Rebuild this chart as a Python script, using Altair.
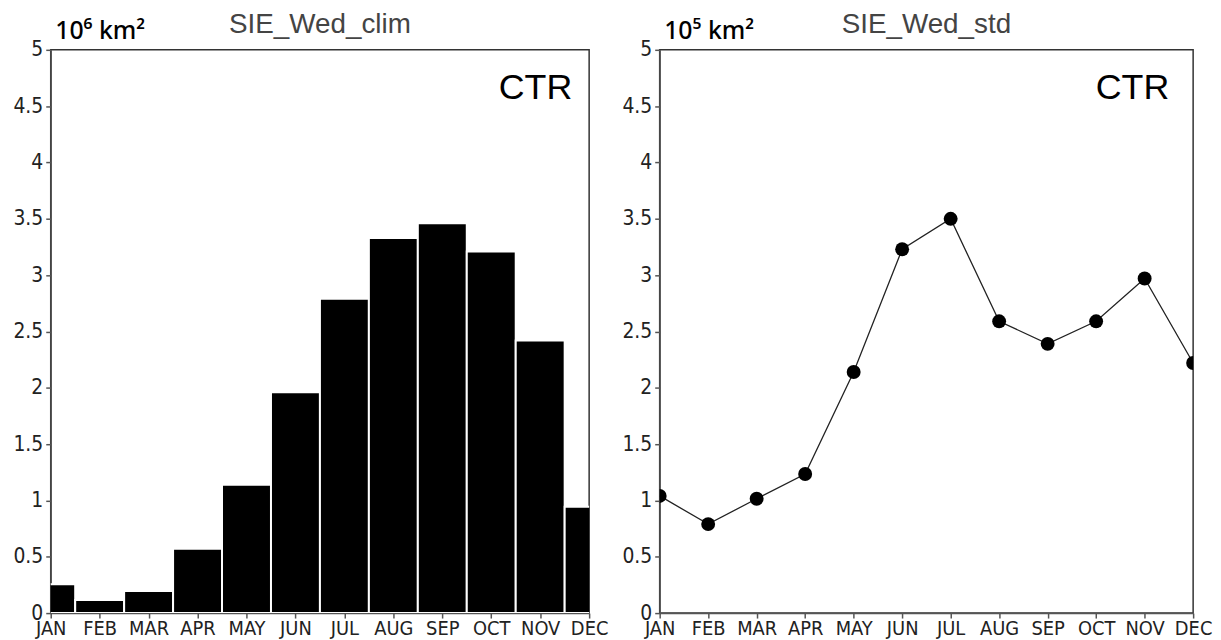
import altair as alt
import pandas as pd

months = ["JAN", "FEB", "MAR", "APR", "MAY", "JUN", "JUL", "AUG", "SEP", "OCT", "NOV", "DEC"]
month_idx = list(range(1, 13))
clim = [0.256, 0.117, 0.197, 0.57, 1.14, 1.96, 2.79, 3.33, 3.46, 3.21, 2.42, 0.944]
std = [1.04, 0.79, 1.015, 1.235, 2.14, 3.23, 3.50, 2.59, 2.39, 2.59, 2.97, 2.22]
y_ticks = [0, 0.5, 1, 1.5, 2, 2.5, 3, 3.5, 4, 4.5, 5]

df_clim = pd.DataFrame({"m": month_idx, "mon": months, "v": clim})
df_std = pd.DataFrame({"m": month_idx, "mon": months, "v": std})

FONT = "Liberation Sans Narrow, DejaVu Sans Condensed, Liberation Sans, sans-serif"
label_expr = "[" + ",".join("'%s'" % m for m in months) + "][datum.value-1]"

def xaxis():
    return alt.Axis(values=month_idx, labelExpr=label_expr, title=None, grid=False,
                    labelFont=FONT, labelFontSize=20, labelColor="#222",
                    labelPadding=1, labelBaseline="top", labelFlush=False,
                    tickSize=5, tickColor="#555", tickWidth=1.5,
                    domainColor="#555", domainWidth=1.5, labelOverlap=False)

def yaxis(unit):
    return alt.Axis(values=y_ticks, format="~g", grid=False, title=unit,
                    labelFont=FONT, labelFontSize=21, labelColor="#222",
                    labelPadding=3, tickSize=5, tickColor="#555", tickWidth=1.5,
                    domainColor="#555", domainWidth=1.5,
                    titleAngle=0, titleAlign="left", titleBaseline="alphabetic",
                    titleX=4, titleY=-11, titleFont="Noto Sans", titleFontSize=25,
                    titleFontWeight=500, titleColor="#000")

xscale = alt.Scale(domain=[1, 12], nice=False, zero=False)
yscale = alt.Scale(domain=[0, 5], nice=False)

W1, W2, H = 542, 537, 567

def ttl(text):
    return alt.TitleParams(text, font="Liberation Sans", fontSize=28, fontWeight="normal",
                           color="#444", anchor="middle", frame="group", offset=-20)

bars = alt.Chart(df_clim).transform_calculate(
    x0="datum.m - 0.5", x1="datum.m + 0.5"
).mark_bar(color="black", stroke="white", strokeWidth=2, clip=True).encode(
    x=alt.X("x0:Q", scale=xscale, axis=xaxis()),
    x2="x1:Q",
    y=alt.Y("v:Q", scale=yscale, axis=yaxis("10⁶ km²")),
    y2=alt.datum(0),
)
ctr1 = alt.Chart(pd.DataFrame({"t": ["CTR"]})).mark_text(
    font="Liberation Sans", fontSize=36, align="right", baseline="alphabetic", color="#000"
).encode(x=alt.value(W1 - 17), y=alt.value(49), text="t:N")
left = alt.layer(bars, ctr1).properties(width=W1, height=H, title=ttl("SIE_Wed_clim"))

line = alt.Chart(df_std).mark_line(color="#222", strokeWidth=1.3, clip=True).encode(
    x=alt.X("m:Q", scale=xscale, axis=xaxis()),
    y=alt.Y("v:Q", scale=yscale, axis=yaxis("10⁵ km²")),
)
pts = alt.Chart(df_std).mark_circle(color="black", size=196, opacity=1, clip=True).encode(
    x=alt.X("m:Q", scale=xscale), y=alt.Y("v:Q", scale=yscale)
)
ctr2 = alt.Chart(pd.DataFrame({"t": ["CTR"]})).mark_text(
    font="Liberation Sans", fontSize=36, align="right", baseline="alphabetic", color="#000"
).encode(x=alt.value(W2 - 24), y=alt.value(49), text="t:N")
right = alt.layer(line, pts, ctr2).properties(width=W2, height=H, title=ttl("SIE_Wed_std"))

chart = alt.hconcat(left, right, spacing=71, bounds="flush").properties(
    padding={"left": 4, "top": 0, "right": 0, "bottom": 0}
).configure(background="white").configure_view(stroke="#333", strokeWidth=1.5)

chart.save("out.html", embed_options={"renderer": "svg", "actions": False})
